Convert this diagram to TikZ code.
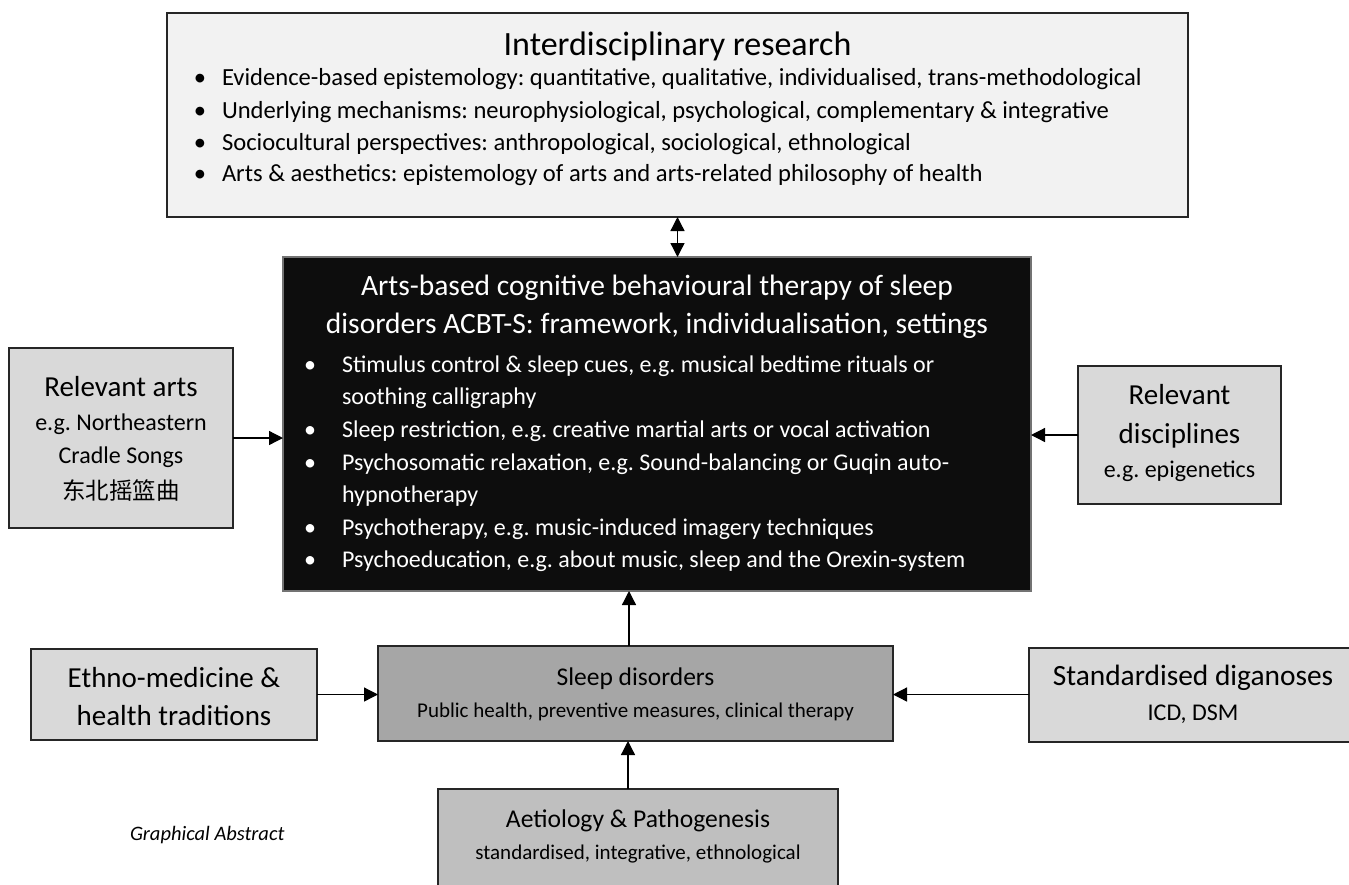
\documentclass[tikz,border=0pt]{standalone}
\usepackage{fontspec}
\setmainfont{Carlito}
\newfontfamily\cjk{Noto Sans CJK SC}
\usetikzlibrary{arrows.meta}
\frenchspacing
\newcommand\myfs[1]{\fontsize{#1}{#1}\selectfont}
\definecolor{topfill}{HTML}{F2F2F2}
\definecolor{blkfill}{HTML}{0D0D0D}
\definecolor{sidefill}{HTML}{D9D9D9}
\definecolor{sleepfill}{HTML}{A6A6A6}
\definecolor{aetfill}{HTML}{BFBFBF}
\definecolor{edge}{HTML}{262626}
\tikzset{
  boxstyle/.style={draw=edge, line width=1.3pt, rectangle, inner sep=0pt, outer sep=0pt, anchor=north west},
  txt/.style={inner sep=0pt, outer sep=0pt, anchor=base},
  txtl/.style={inner sep=0pt, outer sep=0pt, anchor=base west},
  arr/.style={line width=1.3pt, -{Triangle[length=14pt,width=14pt]}},
  darr/.style={line width=1.3pt, {Triangle[length=14pt,width=14pt]}-{Triangle[length=14pt,width=14pt]}}
}
\begin{document}
\begin{tikzpicture}[x=1pt,y=-1pt]
\useasboundingbox (0,0) rectangle (1349,884);
\clip (0,0) rectangle (1349,884);
\fill[white] (0,0) rectangle (1349,884);

% ---------- boxes ----------
\node[boxstyle, fill=topfill, minimum width=1021pt, minimum height=204pt] (top) at (167,13) {};
\node[boxstyle, fill=blkfill, draw=black!55, minimum width=748pt, minimum height=334pt] (blk) at (283,257) {};
\node[boxstyle, fill=sidefill, minimum width=224pt, minimum height=180pt] (ra) at (9,348) {};
\node[boxstyle, fill=sidefill, minimum width=203pt, minimum height=138pt] (rd) at (1078,366) {};
\node[boxstyle, fill=sidefill, minimum width=286pt, minimum height=91pt] (eth) at (31,649) {};
\node[boxstyle, fill=sleepfill, minimum width=515pt, minimum height=95pt] (sd) at (378,646) {};
\node[boxstyle, fill=sidefill, minimum width=328pt, minimum height=94pt] (std) at (1029,648) {};
\node[boxstyle, fill=aetfill, minimum width=400pt, minimum height=130pt] (aet) at (438,789) {};

% ---------- top box text ----------
\node[txt, font=\myfs{34}] (toptitle) at (677.5,55) {Interdisciplinary research};
\begin{scope}[every node/.append style={font=\myfs{24.6}}]
\node[txt] (tb1) at (200,85) {\textbullet};
\node[txtl] (tt1) at (222,85) {Evidence-based epistemology: quantitative, qualitative, individualised, trans-methodological};
\node[txt] (tb2) at (200,118) {\textbullet};
\node[txtl] (tt2) at (222,118) {Underlying mechanisms: neurophysiological, psychological, complementary \& integrative};
\node[txt] (tb3) at (200,150) {\textbullet};
\node[txtl] (tt3) at (222,150) {Sociocultural perspectives: anthropological, sociological, ethnological};
\node[txt] (tb4) at (200,181) {\textbullet};
\node[txtl] (tt4) at (222,181) {Arts \& aesthetics: epistemology of arts and arts-related philosophy of health};
\end{scope}

% ---------- black box text ----------
\begin{scope}[every node/.append style={text=white}]
\node[txt, font=\myfs{29.5}] (bt1) at (657,295) {Arts-based cognitive behavioural therapy of sleep};
\node[txt, font=\myfs{29.5}] (bt2) at (657,333) {disorders ACBT-S: framework, individualisation, settings};
\begin{scope}[every node/.append style={font=\myfs{24}}]
\node[txt] (bb1) at (310,372) {\textbullet};
\node[txtl] (bl1) at (342,372) {Stimulus control \& sleep cues, e.g. musical bedtime rituals or};
\node[txtl] (bl1b) at (342,404) {soothing calligraphy};
\node[txt] (bb2) at (310,437) {\textbullet};
\node[txtl] (bl2) at (342,437) {Sleep restriction, e.g. creative martial arts or vocal activation};
\node[txt] (bb3) at (310,470) {\textbullet};
\node[txtl] (bl3) at (342,470) {Psychosomatic relaxation, e.g. Sound-balancing or Guqin auto-};
\node[txtl] (bl3b) at (342,502) {hypnotherapy};
\node[txt] (bb4) at (310,535) {\textbullet};
\node[txtl] (bl4) at (342,535) {Psychotherapy, e.g. music-induced imagery techniques};
\node[txt] (bb5) at (310,567) {\textbullet};
\node[txtl] (bl5) at (342,567) {Psychoeducation, e.g. about music, sleep and the Orexin-system};
\end{scope}
\end{scope}

% ---------- side boxes text ----------
\node[txt, font=\myfs{29}] (ra1) at (121,396) {Relevant arts};
\node[txt, font=\myfs{24}] (ra2) at (121,430) {e.g. Northeastern};
\node[txt, font=\myfs{24}] (ra3) at (121,463) {Cradle Songs};
\node[txt, font=\myfs{23.5}\cjk] (ra4) at (121,499) {东北摇篮曲};

\node[txt, font=\myfs{29}] (rd1) at (1179.5,404) {Relevant};
\node[txt, font=\myfs{29}] (rd2) at (1179.5,443) {disciplines};
\node[txt, font=\myfs{24}] (rd3) at (1179.5,477) {e.g. epigenetics};

\node[txt, font=\myfs{29}] (eth1) at (174,687) {Ethno-medicine \&};
\node[txt, font=\myfs{29}] (eth2) at (174,725) {health traditions};

\node[txt, font=\myfs{25.5}] (sd1) at (635.5,685) {Sleep disorders};
\node[txt, font=\myfs{21}] (sd2) at (635.5,717) {Public health, preventive measures, clinical therapy};

\node[txt, font=\myfs{29.4}] (std1) at (1193,685) {Standardised diganoses};
\node[txt, font=\myfs{24}] (std2) at (1193,720) {ICD, DSM};

\node[txt, font=\myfs{25.6}] (aet1) at (638,827) {Aetiology \& Pathogenesis};
\node[txt, font=\myfs{21}] (aet2) at (638,859) {standardised, integrative, ethnological};

\node[txtl, font=\myfs{20.5}\itshape] (ga) at (130,840) {Graphical Abstract};

% ---------- connectors ----------
\draw[darr] (top.south) -- (top.south |- blk.north);
\draw[arr] (ra.east) -- (ra.east -| blk.west);
\draw[arr] (rd.west) -- (rd.west -| blk.east);
\draw[arr] ([xshift=-6.5pt]sd.north) -- ([xshift=-6.5pt]sd.north |- blk.south);
\draw[arr] (eth.east) -- (eth.east -| sd.west);
\draw[arr] (std.west |- eth.east) -- (eth.east -| sd.east);
\draw[arr] ([xshift=-10pt]aet.north) -- ([xshift=-10pt]aet.north |- sd.south);
\end{tikzpicture}
\end{document}
